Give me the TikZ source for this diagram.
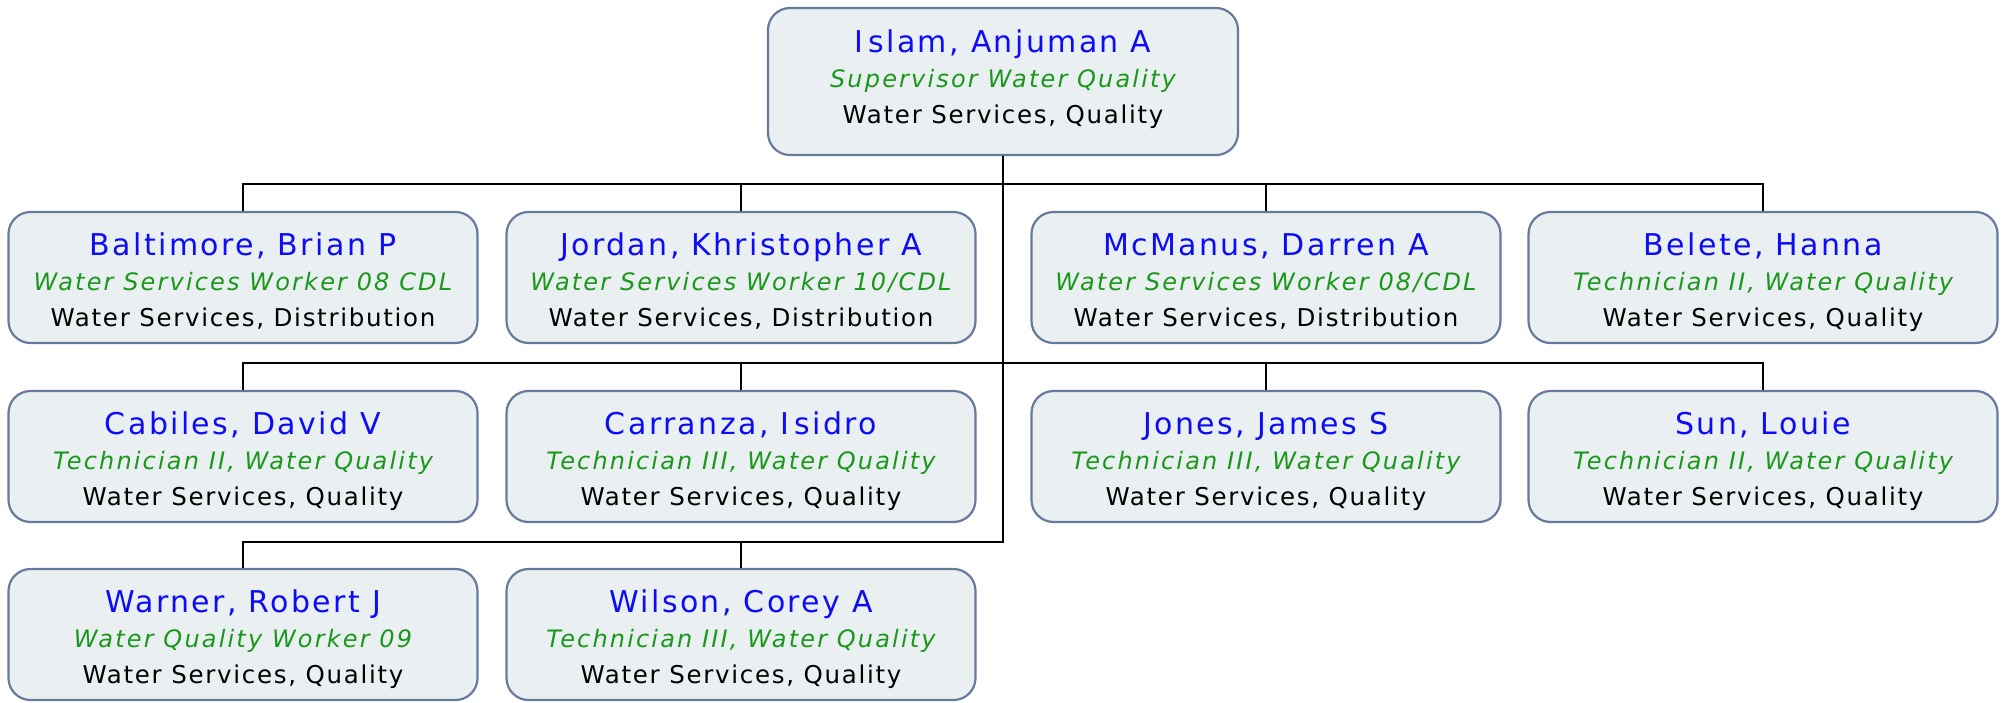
\documentclass[tikz,border=0pt]{standalone}
\usepackage{fontspec}
\newfontfamily\nmfam[LetterSpace=8]{DejaVu Sans}
\newfontfamily\ttfam[LetterSpace=9]{DejaVu Sans Oblique}
\newfontfamily\dpfam[LetterSpace=7]{DejaVu Sans}
\definecolor{nameblue}{RGB}{12,12,245}
\definecolor{titlegreen}{RGB}{26,152,26}
\definecolor{boxfill}{RGB}{234,239,242}
\definecolor{boxline}{RGB}{102,122,156}
\newcommand\wideI{I\kern5pt}
\newcommand\card[3]{\vbox{\hsize=460pt\parindent=0pt\centering
  \lineskiplimit=-200pt\lineskip=0pt\baselineskip=35.5pt
  {\color{nameblue}\nmfam\fontsize{30}{36}\selectfont #1}\par
  {\color{titlegreen}\ttfam\fontsize{24}{28}\selectfont #2}\par
  {\color{black}\dpfam\fontsize{24.5}{29}\selectfont #3}\par}}
\tikzset{
  person/.style={draw=boxline, fill=boxfill, line width=2.2pt, rounded corners=22pt,
    inner sep=0pt, minimum width=469pt, text height=114pt, text depth=17pt},
  boss/.style={person, minimum width=470pt, text height=115pt, text depth=32pt},
  link/.style={draw=black, line width=2.6pt}
}
\begin{document}
\begin{tikzpicture}[x=1pt,y=-1pt]
\useasboundingbox (0,0) rectangle (2007,702);
\node[boss] (top) at (1003,81.5) {\card{\wideI slam, Anjuman A}{Supervisor Water Quality}{Water Services, Quality}};
\node[person] (b1) at (243,277.5) {\card{Baltimore, Brian P}{Water Services Worker 08 CDL}{Water Services, Distribution}};
\node[person] (b2) at (741,277.5) {\card{Jordan, Khristopher A}{Water Services Worker 10/CDL}{Water Services, Distribution}};
\node[person] (b3) at (1266,277.5) {\card{McManus, Darren A}{Water Services Worker 08/CDL}{Water Services, Distribution}};
\node[person] (b4) at (1763,277.5) {\card{Belete, Hanna}{Technician II, Water Quality}{Water Services, Quality}};
\node[person] (c1) at (243,456.5) {\card{Cabiles, David V}{Technician II, Water Quality}{Water Services, Quality}};
\node[person] (c2) at (741,456.5) {\card{Carranza, \wideI sidro}{Technician III, Water Quality}{Water Services, Quality}};
\node[person] (c3) at (1266,456.5) {\card{Jones, James S}{Technician III, Water Quality}{Water Services, Quality}};
\node[person] (c4) at (1763,456.5) {\card{Sun, Louie}{Technician II, Water Quality}{Water Services, Quality}};
\node[person] (d1) at (243,634.5) {\card{Warner, Robert J}{Water Quality Worker 09}{Water Services, Quality}};
\node[person] (d2) at (741,634.5) {\card{Wilson, Corey A}{Technician III, Water Quality}{Water Services, Quality}};
\foreach \n in {b1,b2,b3,b4} \draw[link] (top.south) -- ++(0,28) -| (\n.north);
\foreach \n in {c1,c2,c3,c4} \draw[link] (top.south) -- ++(0,207) -| (\n.north);
\foreach \n in {d1,d2} \draw[link] (top.south) -- ++(0,386) -| (\n.north);
\end{tikzpicture}
\end{document}
